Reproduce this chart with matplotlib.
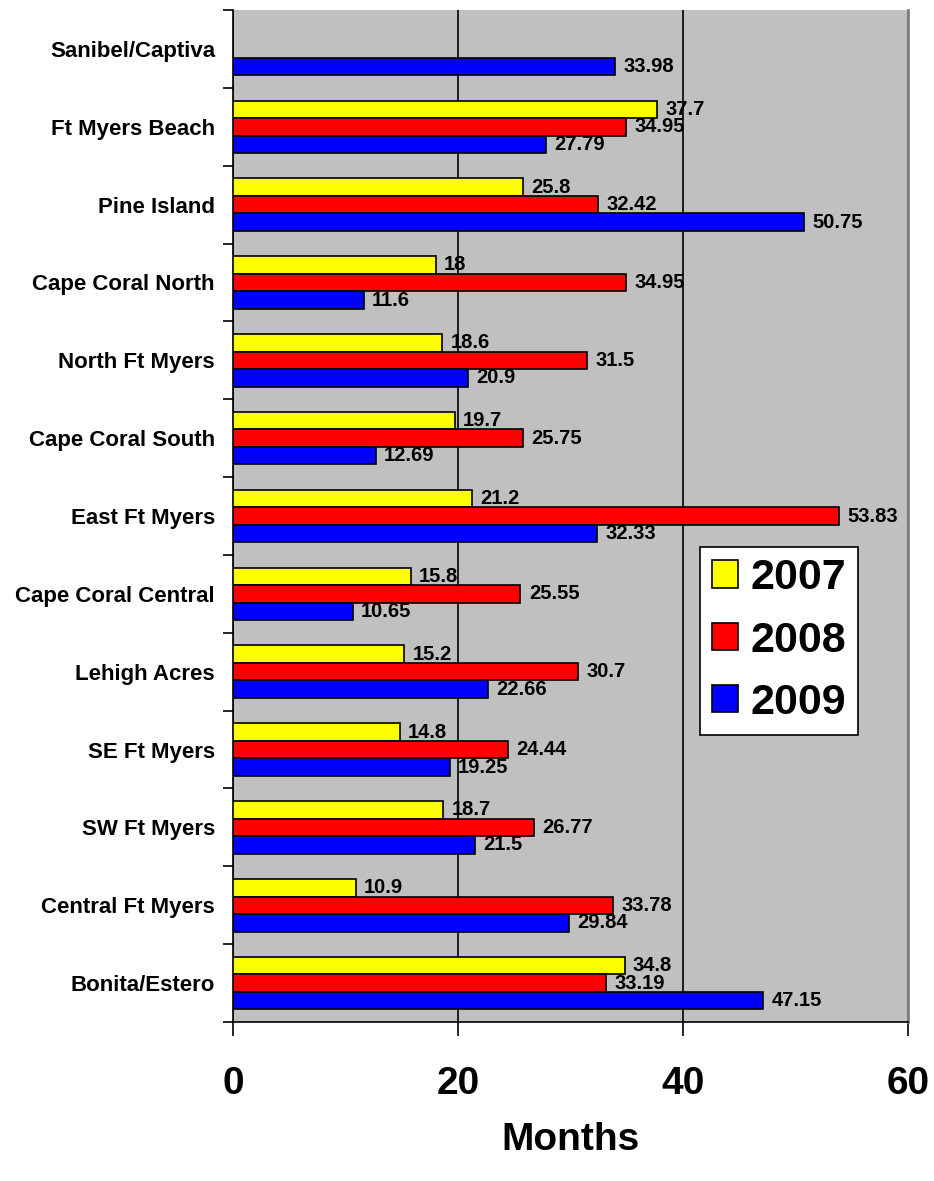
import numpy as np
import matplotlib.pyplot as plt

plt.rcParams["font.family"] = ["Liberation Sans", "DejaVu Sans"]

# regions listed bottom to top, as they appear on the y axis
AREAS = [
    "Bonita/Estero", "Central Ft Myers", "SW Ft Myers", "SE Ft Myers",
    "Lehigh Acres", "Cape Coral Central", "East Ft Myers", "Cape Coral South",
    "North Ft Myers", "Cape Coral North", "Pine Island", "Ft Myers Beach",
    "Sanibel/Captiva",
]
Y2007 = [34.8, 10.9, 18.7, 14.8, 15.2, 15.8, 21.2, 19.7, 18.6, 18, 25.8, 37.7, None]
Y2008 = [33.19, 33.78, 26.77, 24.44, 30.7, 25.55, 53.83, 25.75, 31.5, 34.95, 32.42, 34.95, None]
Y2009 = [47.15, 29.84, 21.5, 19.25, 22.66, 10.65, 32.33, 12.69, 20.9, 11.6, 50.75, 27.79, 33.98]

SERIES = [("2007", Y2007, "#FFFF00"), ("2008", Y2008, "#FF0000"), ("2009", Y2009, "#0000FF")]


def main():
    fig = plt.figure(figsize=(9.34, 11.81), dpi=100)
    ax = fig.add_axes([0.2495, 0.1346, 0.7227, 0.8569])
    ax.set_facecolor("#C0C0C0")

    y = np.arange(len(AREAS))
    h = 0.225
    for i, (name, vals, color) in enumerate(SERIES):
        pos = y + (1 - i) * h
        v = np.array([np.nan if x is None else x for x in vals], dtype=float)
        ax.barh(pos, v, height=h, color=color, edgecolor="black",
                linewidth=1.2, label=name, zorder=3)
        for p, val in zip(pos, vals):
            if val is None:
                continue
            ax.annotate(f"{val:g}", (val, p), xytext=(6, 0),
                        textcoords="offset points", va="center", ha="left",
                        fontsize=14.5, fontweight="bold", zorder=4)

    ax.set_xlim(0, 60)
    ax.set_ylim(-0.5, len(AREAS) - 0.5)
    ax.set_xticks([0, 20, 40, 60])
    ax.set_xticklabels(["0", "20", "40", "60"], fontsize=28, fontweight="bold")
    ax.tick_params(axis="x", length=10, width=1.2, pad=22)
    ax.xaxis.grid(True, color="black", linewidth=1.2, zorder=1)
    ax.set_axisbelow(True)

    # category labels centred, tick marks at the group boundaries
    ax.set_yticks(y)
    ax.set_yticklabels(AREAS, fontsize=16, fontweight="bold")
    ax.tick_params(axis="y", length=0, pad=13)
    ax.set_yticks(np.arange(-0.5, len(AREAS)), minor=True)
    ax.tick_params(axis="y", which="minor", length=7, width=1.2)

    ax.set_xlabel("Months", fontsize=28, fontweight="bold", labelpad=14)

    ax.spines["top"].set_visible(False)
    ax.spines["right"].set_color("#808080")
    ax.spines["right"].set_linewidth(2)
    ax.spines["left"].set_linewidth(1.2)
    ax.spines["bottom"].set_linewidth(1.2)

    leg = ax.legend(loc="lower left", bbox_to_anchor=(0.692, 0.284),
                    borderaxespad=0, prop={"size": 31, "weight": "bold"},
                    frameon=True, fancybox=False, edgecolor="black",
                    framealpha=1, handlelength=0.6, handleheight=0.6,
                    handletextpad=0.3, labelspacing=0.52, borderpad=0.27)
    leg.get_frame().set_linewidth(1.2)

    fig.savefig("out.png", dpi=100)


if __name__ == "__main__":
    main()
